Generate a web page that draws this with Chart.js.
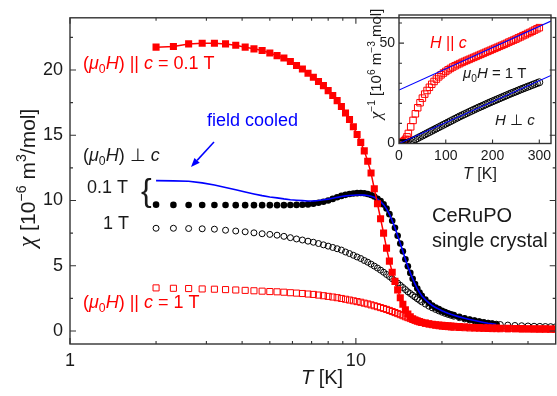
<!DOCTYPE html>
<html><head><meta charset="utf-8">
<script src="https://cdn.jsdelivr.net/npm/chart.js@4/dist/chart.umd.min.js"></script>
<style>
html,body{margin:0;padding:0;overflow:hidden;background:#fff;width:557px;height:396px;}
#wrap{position:relative;width:557px;height:396px;overflow:hidden;background:#fff;}
#main{position:absolute;left:0;top:0;}
#inset{position:absolute;left:340px;top:0;}
</style></head><body>
<div id="wrap">
<canvas id="main" width="561" height="396" style="width:561px;height:396px"></canvas>
<canvas id="inset" width="217" height="190" style="width:217px;height:190px"></canvas>
</div>
<script>
// ---------------- data ----------------
const temperatureK = [2.0,2.3,2.6,2.9,3.2,3.5,3.8,4.1,4.4,4.7,
  5.0,5.3,5.6,5.9,6.2,6.5,6.8,7.1,7.4,7.7,
  8.0,8.3,8.6,8.9,9.2,9.5,9.8,10.1,10.4,10.7,
  11.0,11.3,11.6,11.9,12.2,12.5,12.8,13.1,13.4,13.7,
  14.0,14.3,14.6,14.9,15.2,15.5,15.8,16.1,16.4,16.7,
  17.0,17.5,18.0,18.5,19.0,19.5,20,20.5,21,21.5,
  22,23,24,25,26,27,28,29,30,31,
  32,34,36,38,40,42,44,46,48,50];

// (mu0 H) || c = 0.1 T  (filled red squares)
const chiParallel01T = [21.75,21.8,22.0,22.05,22.05,22.0,21.9,21.75,21.62,21.5,
  21.3,21.1,20.92,20.65,20.35,20.08,19.75,19.45,19.12,18.8,
  18.42,18.05,17.65,17.2,16.7,16.2,15.65,15.05,14.45,13.8,
  13.0,12.1,10.9,9.75,8.6,7.5,6.35,5.35,4.5,3.8,
  3.15,2.55,2.05,1.62,1.3,1.08,0.94,0.84,0.76,0.7,
  0.65,0.6,0.55,0.51,0.48,0.45,0.43,0.41,0.39,0.37,
  0.36,0.33,0.31,0.29,0.27,0.26,0.25,0.24,0.23,0.22,
  0.21,0.2,0.19,0.18,0.17,0.17,0.16,0.16,0.15,0.15];

// (mu0 H) perp c, 0.1 T, zero-field cooled (filled black circles)
const chiPerp01T = [9.68,9.66,9.65,9.65,9.65,9.65,9.64,9.64,9.64,9.64,
  9.64,9.64,9.64,9.65,9.66,9.67,9.7,9.75,9.82,9.9,
  10.0,10.12,10.25,10.35,10.43,10.5,10.54,10.56,10.57,10.55,
  10.5,10.42,10.3,10.12,9.95,9.7,9.38,8.95,8.45,7.9,
  7.3,6.7,6.1,5.5,4.95,4.45,4.0,3.6,3.25,2.95,
  2.7,2.4,2.15,1.95,1.8,1.67,1.55,1.45,1.36,1.28,
  1.21,1.08,0.97,0.88,0.8,0.72,0.65,0.59,0.54,0.5,
  null,null,null,null,null,null,null,null,null,null];

// (mu0 H) perp c, 0.1 T, field cooled (blue line)
const chiPerp01TFieldCooled = [11.52,11.5,11.47,11.35,11.18,11.0,10.82,10.65,10.5,10.37,
  10.27,10.2,10.12,10.06,10.02,9.99,9.96,9.97,10.0,10.05,
  10.1,10.17,10.24,10.3,10.35,10.38,10.4,10.42,10.42,10.41,
  10.38,10.33,10.25,10.1,9.92,9.68,9.36,8.95,8.45,7.9,
  7.3,6.7,6.1,5.5,4.95,4.45,4.0,3.6,3.25,2.95,
  2.7,2.4,2.15,1.95,1.8,1.67,1.55,1.45,1.36,1.28,
  1.21,1.08,0.97,0.88,0.8,0.72,0.65,0.59,0.54,0.5,
  null,null,null,null,null,null,null,null,null,null];

// (mu0 H) perp c, 1 T (open black circles)
const chiPerp1T = [7.87,7.87,7.85,7.83,7.8,7.72,7.66,7.6,7.52,7.45,
  7.4,7.34,7.25,7.15,7.05,6.97,6.88,6.8,6.7,6.6,
  6.5,6.4,6.3,6.2,6.05,5.93,5.8,5.67,5.55,5.4,
  5.27,5.12,4.97,4.82,4.66,4.5,4.33,4.17,4.0,3.84,
  3.67,3.5,3.33,3.17,3.0,2.87,2.73,2.6,2.47,2.35,
  2.23,2.06,1.9,1.77,1.65,1.54,1.44,1.35,1.27,1.2,
  1.13,1.02,0.92,0.84,0.77,0.7,0.65,0.6,0.56,0.52,
  0.49,0.45,0.42,0.4,0.38,0.36,0.35,0.34,0.33,0.32];

// (mu0 H) || c = 1 T (open red squares)
const chiParallel1T = [3.3,3.27,3.25,3.22,3.2,3.17,3.14,3.11,3.08,3.05,
  3.02,3.0,2.97,2.93,2.9,2.87,2.83,2.8,2.75,2.7,
  2.65,2.6,2.55,2.49,2.43,2.37,2.31,2.25,2.2,2.13,
  2.07,2.0,1.93,1.86,1.79,1.72,1.65,1.57,1.49,1.41,
  1.33,1.25,1.17,1.09,1.02,0.95,0.88,0.82,0.76,0.71,
  0.66,0.59,0.53,0.48,0.44,0.4,0.37,0.35,0.33,0.31,
  0.29,0.27,0.25,0.23,0.22,0.21,0.2,0.19,0.18,0.18,
  0.17,0.16,0.16,0.15,0.15,0.14,0.14,0.14,0.13,0.13];

const mainXTickLabels = [1, 10];
const mainYTickLabels = [0, 5, 10, 15, 20];

// ---- inset: inverse susceptibility at 1 T ----
const insetTemperatureK = [2,5,8,11,14,17,
  20,25,30,35,40,45,50,55,60,65,70,75,80,85,90,95,100,
  105,110,115,120,125,130,135,140,145,150,155,160,165,170,175,180,185,190,195,200,
  205,210,215,220,225,230,235,240,245,250,255,260,265,270,275,280,285,290,295,300];
const invChiParallel = [0.3,0.5,0.8,1.3,2.1,3.3,
  5.0,8.3,11.5,14.8,17.8,20.3,22.6,24.6,26.4,28.0,29.5,30.9,32.1,33.2,34.2,35.1,35.9,
  36.7,37.4,38.1,38.7,39.3,39.8,40.4,40.9,41.4,41.9,42.4,42.9,43.4,43.9,44.4,44.9,45.4,45.9,46.4,46.9,
  47.4,47.9,48.4,48.9,49.4,49.9,50.5,51.0,51.5,52.0,52.6,53.1,53.7,54.2,54.8,55.3,55.9,56.5,57.1,57.7];
const invChiPerp = [0.13,0.13,0.15,0.18,0.25,0.35,
  0.45,0.9,1.5,2.1,2.7,3.3,3.9,4.5,5.1,5.7,6.3,6.9,7.5,8.1,8.7,9.3,9.9,
  10.5,11.1,11.7,12.3,12.9,13.5,14.05,14.6,15.15,15.7,16.25,16.8,17.35,17.9,18.4,18.9,19.45,20.0,20.5,21.0,
  21.5,22.0,22.5,23.0,23.5,24.0,24.5,25.0,25.45,25.9,26.4,26.9,27.35,27.8,28.25,28.7,29.15,29.6,30.05,30.5];
const fitTemperatureK = [0, 325];
const fitParallel = [26.6, 61.0];
const fitPerp = [0.0, 33.9];
const insetXTickLabels = [0, 100, 200, 300];
const insetYTickLabels = [0, 50];

// ---------------- helpers ----------------
const FONT = '"Liberation Sans", Arial, Helvetica, sans-serif';
const SERIF = '"Liberation Serif", "Times New Roman", serif';
const INK = '#1a1a1a';
function pts(xs, ys){ return xs.map((x,i)=>({x:x, y:ys[i]})).filter(p=>p.y!==null); }
function fontStr(size, italic, serif){ return (italic?'italic ':'') + size + 'px ' + (serif?SERIF:FONT); }

// segs: [text, flags]; flags: i = italic, _ = subscript, ^ = superscript, g = serif (Greek chi)
function drawRich(ctx, segs, x, cy, size, color, opts){
  opts = opts || {};
  ctx.save();
  ctx.fillStyle = color;
  ctx.textBaseline = 'alphabetic';
  ctx.textAlign = 'left';
  const parts = segs.map(function(sg){
    const t = sg[0], f = sg[1] || '';
    const small = f.indexOf('_')>=0 || f.indexOf('^')>=0;
    let s = small ? size*0.68 : size;
    if (f.indexOf('g')>=0) s = s*1.15;
    const font = fontStr(s, f.indexOf('i')>=0, f.indexOf('g')>=0);
    ctx.font = font;
    const w = ctx.measureText(t).width;
    const dy = f.indexOf('_')>=0 ? size*0.22 : (f.indexOf('^')>=0 ? -size*0.42 : 0);
    return {t:t, font:font, w:w, dy:dy};
  });
  const total = parts.reduce(function(a,p){return a+p.w;},0);
  let px, base;
  if (opts.rotate){
    ctx.translate(x, cy);
    ctx.rotate(-Math.PI/2);
    px = -total/2; base = size*0.36;
  } else {
    px = opts.center ? x - total/2 : x;
    base = cy + size*0.36;
  }
  parts.forEach(function(p){
    ctx.font = p.font;
    ctx.fillText(p.t, px, base + p.dy);
    px += p.w;
  });
  ctx.restore();
}

function drawFrame(chart, spec){
  const ctx = chart.ctx, a = chart.chartArea, xs = chart.scales.x, ys = chart.scales.y;
  ctx.save();
  ctx.strokeStyle = '#333';
  ctx.lineWidth = 1.4;
  ctx.strokeRect(a.left, a.top, a.right-a.left, a.bottom-a.top);
  ctx.lineWidth = 1.1;
  ctx.beginPath();
  spec.xt.forEach(function(t){
    const px = xs.getPixelForValue(t[0]);
    ctx.moveTo(px, a.bottom); ctx.lineTo(px, a.bottom - t[1]);
    if (spec.mirror){ ctx.moveTo(px, a.top); ctx.lineTo(px, a.top + t[1]); }
  });
  spec.yt.forEach(function(t){
    const py = ys.getPixelForValue(t[0]);
    ctx.moveTo(a.left, py); ctx.lineTo(a.left + t[1], py);
    if (spec.mirror){ ctx.moveTo(a.right, py); ctx.lineTo(a.right - t[1], py); }
  });
  ctx.stroke();
  ctx.restore();
}

// ---------------- main chart ----------------
const mainFrame = {
  mirror: true,
  xt: [[1,6],[2,3],[3,3],[4,3],[5,3],[6,3],[7,3],[8,3],[9,3],[10,6],[20,3],[30,3],[40,3]],
  yt: [[0,6],[2.5,3],[5,6],[7.5,3],[10,6],[12.5,3],[15,6],[17.5,3],[20,6],[22.5,3]]
};

const mainDecor = {
  id: 'mainDecor',
  afterDatasetsDraw: function(chart){
    drawFrame(chart, mainFrame);
    const ctx = chart.ctx;
    const RED = '#ff0000', BLUE = '#0000ff';
    drawRich(ctx, [['('],['μ','i'],['0','_'],['H','i'],[') || '],['c','i'],[' = 0.1 T']], 83, 63, 18, RED);
    drawRich(ctx, [['field cooled']], 207, 120, 18, BLUE);
    drawRich(ctx, [['('],['μ','i'],['0','_'],['H','i'],[') ⊥ '],['c','i']], 83, 155, 18, INK);
    drawRich(ctx, [['0.1 T']], 87, 187, 18, INK);
    drawRich(ctx, [['{']], 141, 189, 32, INK);
    drawRich(ctx, [['1 T']], 103, 223, 18, INK);
    drawRich(ctx, [['('],['μ','i'],['0','_'],['H','i'],[') || '],['c','i'],[' = 1 T']], 83, 302, 18, RED);
    drawRich(ctx, [['CeRuPO']], 432, 215, 20, INK);
    drawRich(ctx, [['single crystal']], 432, 240, 20, INK);
    // axis titles
    drawRich(ctx, [['χ','ig'],[' [10'],['−6','^'],[' m'],['3','^'],['/mol]']], 27, 178, 21, INK, {rotate:true});
    drawRich(ctx, [['T','i'],[' [K]']], 322, 377, 20, INK, {center:true});
    // arrow
    ctx.save();
    ctx.strokeStyle = BLUE; ctx.fillStyle = BLUE; ctx.lineWidth = 1.5;
    const x1=214, y1=142, x2=191, y2=167;
    const ang = Math.atan2(y2-y1, x2-x1), L = 9, W = 3.6;
    const bx = x2 - L*Math.cos(ang), by = y2 - L*Math.sin(ang);
    ctx.beginPath(); ctx.moveTo(x1,y1); ctx.lineTo(bx,by); ctx.stroke();
    ctx.beginPath();
    ctx.moveTo(x2,y2);
    ctx.lineTo(bx + W*Math.sin(ang), by - W*Math.cos(ang));
    ctx.lineTo(bx - W*Math.sin(ang), by + W*Math.cos(ang));
    ctx.closePath(); ctx.fill();
    ctx.restore();
  }
};

new Chart(document.getElementById('main'), {
  type: 'scatter',
  data: { datasets: [
    { label: '(μ0H) || c = 0.1 T', data: pts(temperatureK, chiParallel01T), showLine: true,
      borderColor: '#ff0000', borderWidth: 1.5, pointStyle: 'rect', pointRadius: 5,
      pointBackgroundColor: '#ff0000', pointBorderColor: '#ff0000', pointBorderWidth: 0 },
    { label: 'field cooled', data: pts(temperatureK, chiPerp01TFieldCooled), showLine: true,
      borderColor: '#0000ff', borderWidth: 1.6, pointRadius: 0 },
    { label: '(μ0H) ⊥ c 0.1 T', data: pts(temperatureK, chiPerp01T), showLine: false,
      pointStyle: 'circle', pointRadius: 3.3, pointBackgroundColor: '#000', pointBorderColor: '#000', pointBorderWidth: 0 },
    { label: '(μ0H) ⊥ c 1 T', data: pts(temperatureK, chiPerp1T), showLine: false,
      pointStyle: 'circle', pointRadius: 3, pointBackgroundColor: 'rgba(0,0,0,0)', pointBorderColor: '#000', pointBorderWidth: 1 },
    { label: '(μ0H) || c = 1 T', data: pts(temperatureK, chiParallel1T), showLine: false,
      pointStyle: 'rect', pointRadius: 4.3, pointBackgroundColor: 'rgba(0,0,0,0)', pointBorderColor: '#ff0000', pointBorderWidth: 1 }
  ]},
  options: {
    responsive: false, animation: false, events: [],
    layout: { padding: { top: 4, right: 2, left: 0, bottom: 0 } },
    elements: { line: { tension: 0 } },
    plugins: { legend: { display: false }, tooltip: { enabled: false } },
    scales: {
      x: { type: 'logarithmic', min: 1, max: 50,
        grid: { display: false, drawTicks: false }, border: { display: false },
        afterBuildTicks: function(s){ s.ticks = mainXTickLabels.map(function(v){return {value:v, major:true};}); },
        afterFit: function(s){ s.height = 52; },
        ticks: { autoSkip: false, maxRotation: 0, padding: 6, color: INK,
          font: { family: FONT, size: 18 }, callback: function(v){ return String(v); } } },
      y: { type: 'linear', min: -1, max: 24,
        grid: { display: false, drawTicks: false }, border: { display: false },
        afterBuildTicks: function(s){ s.ticks = mainYTickLabels.map(function(v){return {value:v};}); },
        afterFit: function(s){ s.width = 70; },
        ticks: { padding: 7, color: INK, font: { family: FONT, size: 18 },
          callback: function(v){ return String(v); } } }
    }
  },
  plugins: [mainDecor]
});

// ---------------- inset chart ----------------
const insetFrame = {
  mirror: false,
  xt: [[100,4],[200,4],[300,4]],
  yt: [[10,3],[20,3],[30,3],[40,3],[50,5],[60,3]]
};
const insetDecor = {
  id: 'insetDecor',
  afterDatasetsDraw: function(chart){
    drawFrame(chart, insetFrame);
    const ctx = chart.ctx;
    drawRich(ctx, [['H','i'],[' || '],['c','i']], 90, 42, 16, '#ff0000');
    drawRich(ctx, [['μ','i'],['0','_'],['H','i'],[' = 1 T']], 123, 73, 15, INK);
    drawRich(ctx, [['H','i'],[' ⊥ '],['c','i']], 155, 120, 15, INK);
    drawRich(ctx, [['T','i'],[' [K]']], 140, 173, 16, INK, {center:true});
    drawRich(ctx, [['χ','ig'],['−1','^'],[' [10'],['6','^'],[' m'],['−3','^'],[' mol]']], 36, 64, 15, INK, {rotate:true});
  }
};

new Chart(document.getElementById('inset'), {
  type: 'scatter',
  data: { datasets: [
    { label: 'fit parallel', data: pts(fitTemperatureK, fitParallel), showLine: true,
      borderColor: '#0000ff', borderWidth: 1.1, pointRadius: 0 },
    { label: 'fit perp', data: pts(fitTemperatureK, fitPerp), showLine: true,
      borderColor: '#0000ff', borderWidth: 1.1, pointRadius: 0 },
    { label: 'H ⊥ c', data: pts(insetTemperatureK, invChiPerp), showLine: false,
      pointStyle: 'circle', pointRadius: 3.5, pointBackgroundColor: 'rgba(0,0,0,0)', pointBorderColor: '#000', pointBorderWidth: 1 },
    { label: 'H || c', data: pts(insetTemperatureK, invChiParallel), showLine: false,
      pointStyle: 'rect', pointRadius: 4.6, pointBackgroundColor: 'rgba(0,0,0,0)', pointBorderColor: '#ff0000', pointBorderWidth: 1 }
  ]},
  options: {
    responsive: false, animation: false, events: [],
    layout: { padding: { top: 15, right: 6, left: 0, bottom: 0 } },
    elements: { line: { tension: 0 } },
    plugins: { legend: { display: false }, tooltip: { enabled: false } },
    scales: {
      x: { type: 'linear', min: 0, max: 325,
        grid: { display: false, drawTicks: false }, border: { display: false },
        afterBuildTicks: function(s){ s.ticks = insetXTickLabels.map(function(v){return {value:v};}); },
        afterFit: function(s){ s.height = 46.5; },
        ticks: { autoSkip: false, maxRotation: 0, padding: 4, color: INK,
          font: { family: FONT, size: 14 }, callback: function(v){ return String(v); } } },
      y: { type: 'linear', min: 0, max: 64,
        grid: { display: false, drawTicks: false }, border: { display: false },
        afterBuildTicks: function(s){ s.ticks = insetYTickLabels.map(function(v){return {value:v};}); },
        afterFit: function(s){ s.width = 59; },
        ticks: { padding: 4, color: INK, font: { family: FONT, size: 14 },
          callback: function(v){ return String(v); } } }
    }
  },
  plugins: [insetDecor]
});
</script>
</body></html>
